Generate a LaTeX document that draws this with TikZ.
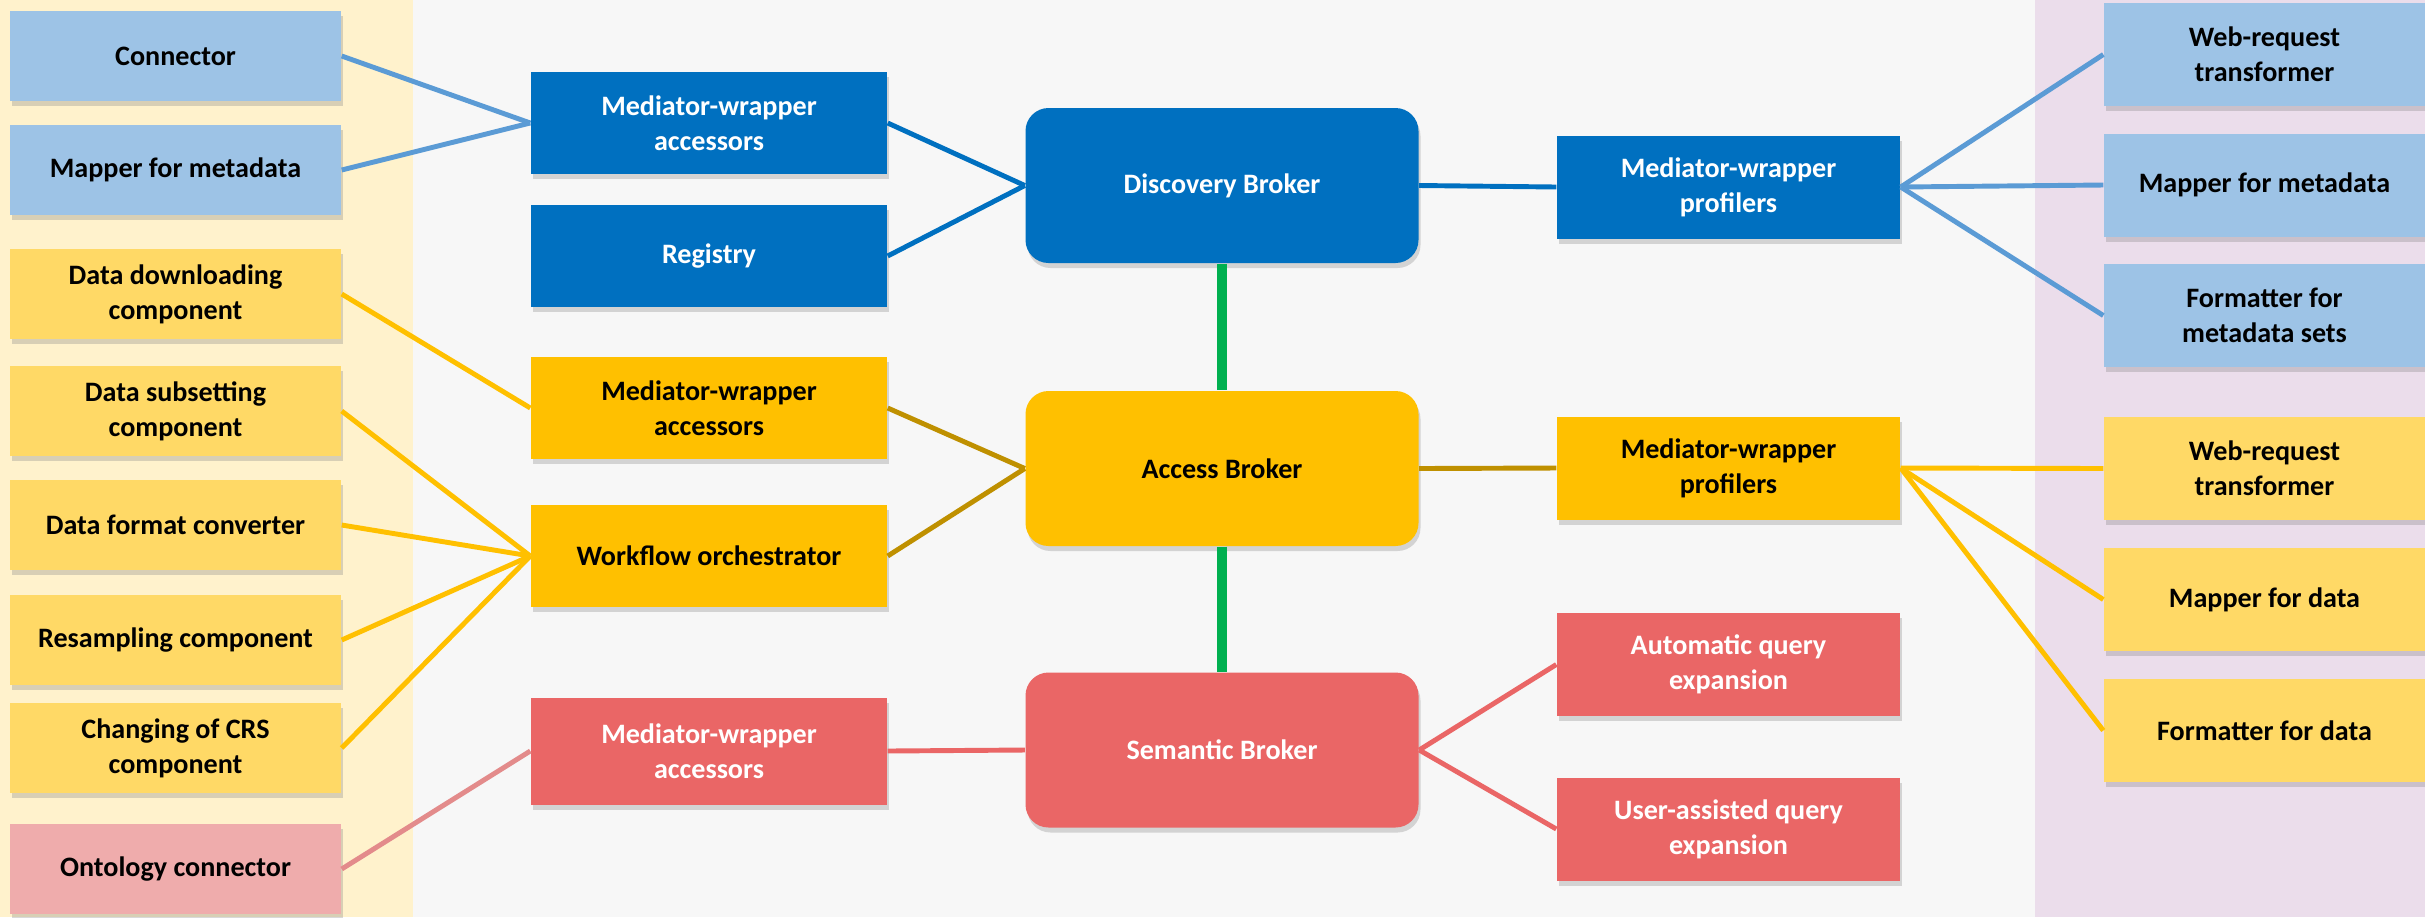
\documentclass[tikz,border=0pt]{standalone}
\usepackage{fontspec}
\setmainfont{Carlito}
\usepackage{tikz}
\usetikzlibrary{positioning,shadows}
\usepackage{xcolor}
\definecolor{dblue}{HTML}{0070C0}
\definecolor{lblue}{HTML}{9DC3E6}
\definecolor{lineblue}{HTML}{5B9BD5}
\definecolor{gold}{HTML}{FFC000}
\definecolor{lgold}{HTML}{FFD966}
\definecolor{dgold}{HTML}{BF9000}
\definecolor{coral}{HTML}{EA6666}
\definecolor{lpink}{HTML}{EFACAC}
\definecolor{linepink}{HTML}{E38B8B}
\definecolor{grn}{HTML}{00B050}
\definecolor{bandY}{HTML}{FFF2CC}
\definecolor{bandP}{HTML}{EBDDEB}
\definecolor{bg}{HTML}{F7F7F7}

\begin{document}
\begin{tikzpicture}[
    box/.style={rectangle,align=center,inner sep=2pt,font=\bfseries\fontsize{8}{10}\selectfont,drop shadow={shadow xshift=0.02cm,shadow yshift=-0.05cm,opacity=0.3}},
    leftbox/.style={box,minimum width=3.31cm,minimum height=0.9cm},
    midbox/.style={box,minimum width=3.56cm,minimum height=1.02cm},
    profbox/.style={box,minimum width=3.43cm,minimum height=1.03cm},
    rightbox/.style={box,minimum width=3.21cm,minimum height=1.03cm},
    broker/.style={box,rounded corners=0.23cm,minimum width=3.93cm,minimum height=1.55cm},
    link/.style={line width=1.4pt},
    tie/.style={line width=2.6pt,grn}
]
\useasboundingbox (0,0) rectangle (24.25,-9.17);
% Background bands
\fill[bg] (0,0) rectangle (24.25,-9.17);
\fill[bandY] (0,0) rectangle (4.13,-9.17);
\fill[bandP] (20.35,0) rectangle (24.25,-9.17);

% Left column
\node[leftbox,fill=lblue] (con) at (1.755,-0.56) {Connector};
\node[leftbox,fill=lblue] (mmetaL) at (1.755,-1.70) {Mapper for metadata};
\node[leftbox,fill=lgold] (dload) at (1.755,-2.94) {Data downloading\\component};
\node[leftbox,fill=lgold] (dsub) at (1.755,-4.11) {Data subsetting\\component};
\node[leftbox,fill=lgold] (dconv) at (1.755,-5.25) {Data format converter};
\node[leftbox,fill=lgold] (resamp) at (1.755,-6.40) {Resampling component};
\node[leftbox,fill=lgold] (crs) at (1.755,-7.48) {Changing of CRS\\component};
\node[leftbox,fill=lpink] (onto) at (1.755,-8.69) {Ontology connector};

% Accessors
\node[midbox,fill=dblue,text=white] (maccdisc) at (7.09,-1.23) {Mediator-wrapper\\accessors};
\node[midbox,fill=dblue,text=white] (reg) at (7.09,-2.56) {Registry};
\node[midbox,fill=gold] (maccacc) at (7.09,-4.08) {Mediator-wrapper\\accessors};
\node[midbox,fill=gold] (wflow) at (7.09,-5.56) {Workflow orchestrator};
\node[midbox,fill=coral,text=white,minimum height=1.07cm] (maccsem) at (7.09,-7.51) {Mediator-wrapper\\accessors};

% Brokers
\node[broker,fill=dblue,text=white] (disc) at (12.22,-1.855) {Discovery Broker};
\node[broker,fill=gold] (acc) at (12.22,-4.685) {Access Broker};
\node[broker,fill=coral,text=white] (sem) at (12.22,-7.50) {Semantic Broker};

% Profilers
\node[profbox,fill=dblue,text=white] (profdisc) at (17.285,-1.87) {Mediator-wrapper\\profilers};
\node[profbox,fill=gold] (profacc) at (17.285,-4.68) {Mediator-wrapper\\profilers};
\node[profbox,fill=coral,text=white] (aqe) at (17.285,-6.645) {Automatic query\\expansion};
\node[profbox,fill=coral,text=white] (uqe) at (17.285,-8.29) {User-assisted query\\expansion};

% Right column
\node[rightbox,fill=lblue] (wrtdisc) at (22.645,-0.545) {Web-request\\transformer};
\node[rightbox,fill=lblue] (mmetaR) at (22.645,-1.85) {Mapper for metadata};
\node[rightbox,fill=lblue] (fmeta) at (22.645,-3.155) {Formatter for\\metadata sets};
\node[rightbox,fill=lgold] (wrtacc) at (22.645,-4.685) {Web-request\\transformer};
\node[rightbox,fill=lgold] (mdata) at (22.645,-5.995) {Mapper for data};
\node[rightbox,fill=lgold] (fdata) at (22.645,-7.305) {Formatter for data};

% Links
\draw[link,lineblue] (con.east) -- (maccdisc.west);
\draw[link,lineblue] (mmetaL.east) -- (maccdisc.west);
\draw[link,gold] (dload.east) -- (maccacc.west);
\draw[link,gold] (dsub.east) -- (wflow.west);
\draw[link,gold] (dconv.east) -- (wflow.west);
\draw[link,gold] (resamp.east) -- (wflow.west);
\draw[link,gold] (crs.east) -- (wflow.west);
\draw[link,linepink] (onto.east) -- (maccsem.west);

\draw[link,dblue] (maccdisc.east) -- (disc.west);
\draw[link,dblue] (reg.east) -- (disc.west);
\draw[link,dgold] (maccacc.east) -- (acc.west);
\draw[link,dgold] (wflow.east) -- (acc.west);
\draw[link,coral] (maccsem.east) -- (sem.west);

\draw[tie] (disc) -- (acc);
\draw[tie] (acc) -- (sem);

\draw[link,dblue] (disc.east) -- (profdisc.west);
\draw[link,dgold] (acc.east) -- (profacc.west);
\draw[link,coral] (sem.east) -- (aqe.west);
\draw[link,coral] (sem.east) -- (uqe.west);

\draw[link,lineblue] (profdisc.east) -- (wrtdisc.west);
\draw[link,lineblue] (profdisc.east) -- (mmetaR.west);
\draw[link,lineblue] (profdisc.east) -- (fmeta.west);
\draw[link,gold] (profacc.east) -- (wrtacc.west);
\draw[link,gold] (profacc.east) -- (mdata.west);
\draw[link,gold] (profacc.east) -- (fdata.west);
\end{tikzpicture}
\end{document}
